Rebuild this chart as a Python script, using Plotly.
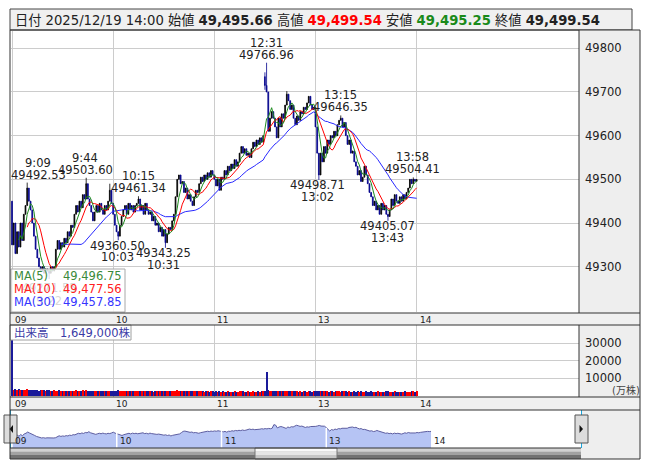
import plotly.graph_objects as go
import pandas as pd

W, H = 653, 470
FONT = "DejaVu Sans, Noto Sans CJK JP, sans-serif"

# ---------------- data (1-minute bars, 09:00-11:30 + 12:30-14:00) ----------------
closes = [
    49350, 49400, 49330, 49380, 49345, 49400, 49360, 49420, 49440, 49480, 49450,
    49430, 49400, 49370, 49340, 49320, 49300, 49290, 49300, 49285, 49295,
    49290, 49285, 49300, 49290, 49300, 49340, 49360, 49340, 49355, 49345,
    49365, 49355, 49380, 49370, 49395, 49390, 49420, 49440, 49425, 49450,
    49435, 49465, 49455, 49490, 49455, 49440, 49425, 49405, 49425, 49440,
    49425, 49445, 49430, 49420, 49440, 49430, 49450, 49475, 49445, 49420,
    49395, 49380, 49370, 49395, 49415, 49430, 49440, 49420, 49445, 49430,
    49440, 49425, 49440, 49445, 49455, 49430, 49440, 49420, 49445, 49430,
    49420, 49425, 49405, 49415, 49395, 49400, 49380, 49390, 49370, 49385,
    49355, 49375, 49390, 49385, 49405, 49420, 49460, 49500, 49510, 49490,
    49495, 49470, 49480, 49455, 49465, 49450, 49440, 49460, 49475, 49470,
    49490, 49505, 49495, 49510, 49500, 49515, 49505, 49520, 49510, 49500,
    49485, 49500, 49475, 49505, 49500, 49520, 49510, 49530, 49520, 49535,
    49525, 49545, 49530, 49540, 49560, 49575, 49560, 49570, 49555, 49560,
    49550, 49570, 49585, 49575, 49590, 49580, 49595, 49585, 49600, 49715,
    49700, 49610, 49640, 49655, 49640, 49620, 49595, 49640, 49620, 49650,
    49640, 49670, 49695, 49680, 49660, 49670, 49640, 49625, 49645, 49635,
    49655, 49650, 49665, 49660, 49675, 49690, 49670, 49660, 49665, 49620,
    49560, 49510, 49560, 49540, 49575, 49560, 49590, 49580, 49600, 49595,
    49610, 49600, 49625, 49635, 49640, 49620, 49630, 49600, 49580, 49590,
    49560, 49565, 49540, 49530, 49510, 49520, 49495, 49505, 49530, 49510,
    49490, 49470, 49460, 49440, 49450, 49430, 49440, 49420, 49445, 49430,
    49440, 49420, 49415, 49430, 49455, 49440, 49465, 49450, 49445, 49460,
    49450, 49465, 49455, 49470, 49480, 49500, 49490, 49500, 49495.66, 49499.54,
]
open_marks = {0: 49450, 150: 49735, 240: 49495.66}
high_marks = {9: 49492.53, 44: 49503.60, 58: 49490, 75: 49461.34, 150: 49745,
              151: 49766.96, 163: 49702, 195: 49646.35, 238: 49504.41, 240: 49499.54}
low_marks = {22: 49271.55, 63: 49360.50, 91: 49343.25, 150: 49705,
             182: 49498.71, 223: 49405.07, 240: 49495.25}

volumes = [
    32000,
    3400, 3600, 3300, 3500, 3200, 3400, 3100, 3300, 3600, 3200,
    3000, 3100, 2900, 3200, 3000, 2800, 3100, 2900, 3000, 2800,
    2900, 3100, 2800, 2700, 2900, 2800, 2600, 2900, 2700, 2800,
    2600, 2800, 2700, 2500, 2800, 2600, 2700, 2900, 2600, 2800,
    2700, 2900, 2800, 3000, 2700, 2600, 2800, 2500, 2700, 2600,
    2500, 2700, 2600, 2400, 2600, 2500, 2700, 2800, 2600, 2700,
    2800, 2600, 2900, 2700, 2500, 2600, 2400, 2500, 2600, 2400,
    2500, 2300, 2400, 2600, 2500, 2300, 2400, 2500, 2300, 2400,
    2300, 2500, 2400, 2200, 2400, 2300, 2500, 2300, 2400, 2600,
    2700, 2500, 2400, 2300, 2500, 2600, 2800, 2900, 2700, 2600,
    2500, 2400, 2600, 2300, 2500, 2400, 2300, 2500, 2400, 2300,
    2400, 2500, 2300, 2200, 2400, 2300, 2200, 2400, 2300, 2200,
    2300, 2200, 2400, 2100, 2300, 2200, 2100, 2300, 2200, 2100,
    2200, 2300, 2100, 2200, 2400, 2500, 2300, 2200, 2100, 2300,
    2200, 2100, 2300, 2200, 2100, 2300, 2200, 2400, 2300, 2600,
    13500, 3000, 2800, 2600, 2700, 2500, 2600, 2400, 2500, 2600,
    2400, 2500, 2700, 2500, 2400, 2300, 2500, 2400, 2300, 2200,
    2300, 2200, 2400, 2300, 2200, 2300, 2400, 2200, 2300, 2600,
    2800, 2700, 2600, 2400, 2500, 2300, 2400, 2200, 2300, 2400,
    2200, 2300, 2400, 2300, 2200, 2300, 2400, 2300, 2200, 2300,
    2200, 2100, 2300, 2200, 2400, 2200, 2300, 2100, 2200, 2300,
    2200, 2100, 2300, 2200, 2100, 2200, 2300, 2100, 2200, 2100,
    2200, 2300, 2400, 2200, 2100, 2200, 2300, 2100, 2200, 2100,
    2200, 2100, 2300, 2200, 2100, 2200, 2300, 2400, 2200, 2500,
]

hour_pos = [0, 60, 120, 180, 240]
hour_labels = ["09", "10", "11", "13", "14"]
price_ticks = [49300, 49400, 49500, 49600, 49700, 49800]
vol_ticks = [10000, 20000, 30000]

# extreme labels: (index, time text, price text, kind, x nudge px)
extremes = [
    (9, "9:09", "49492.53", "high", 11),
    (44, "9:44", "49503.60", "high", -1),
    (75, "10:15", "49461.34", "high", 0),
    (63, "10:03", "49360.50", "low", -1),
    (91, "10:31", "49343.25", "low", -2),
    (151, "12:31", "49766.96", "high", 0),
    (195, "13:15", "49646.35", "high", 0),
    (182, "13:02", "49498.71", "low", -1),
    (223, "13:43", "49405.07", "low", 0),
    (238, "13:58", "49504.41", "high", -1),
]
faint_low = (22, "9:22", "49271.55")

header_html = ("日付 2025/12/19 14:00 始値 <b>49,495.66</b> 高値 "
               "<b><span style='color:#ff0000'>49,499.54</span></b> 安値 "
               "<b><span style='color:#1a8a1a'>49,495.25</span></b> 終値 <b>49,499.54</b>")
ma_legend = [("MA(5)", "49,496.75", "#3a8a3a"),
             ("MA(10)", "49,477.56", "#ff2020"),
             ("MA(30)", "49,457.85", "#3535ff")]
volume_label = "出来高　1,649,000株"

# ---------------- derived OHLC ----------------
n = len(closes)
idx = list(range(n))
opens, highs, lows = [], [], []
for i in range(n):
    o = open_marks.get(i, closes[i - 1] if i > 0 else closes[i])
    c = closes[i]
    opens.append(o)
    highs.append(high_marks.get(i, max(o, c)))
    lows.append(low_marks.get(i, min(o, c)))

s = pd.Series(closes)
ma5 = s.rolling(5).mean()
ma10 = s.rolling(10).mean()
ma30 = s.rolling(30).mean()

UP, DOWN = "#000000", "#00008b"
vol_colors = ["#ff0000" if closes[i] >= opens[i] else "#1a1a9a" for i in idx]

Y0, Y1 = 49196.3, 49839.6          # price axis range
PX_PER_UNIT = (312 - 31) / (Y1 - Y0)


def px(x):
    return x / W


def py(y):
    return 1 - y / H


fig = go.Figure()
fig.add_trace(go.Candlestick(
    x=idx, open=opens, high=highs, low=lows, close=closes,
    increasing=dict(line=dict(color=UP, width=0.8), fillcolor=UP),
    decreasing=dict(line=dict(color=DOWN, width=0.8), fillcolor=DOWN),
    whiskerwidth=0, xaxis="x", yaxis="y", showlegend=False, hoverinfo="skip"))
for ser, col in [(ma30, "#2828ff"), (ma10, "#ff0000"), (ma5, "#1e8c1e")]:
    fig.add_trace(go.Scatter(x=idx, y=ser, mode="lines", line=dict(color=col, width=1),
                             xaxis="x", yaxis="y", showlegend=False, hoverinfo="skip"))
# low label of 9:22, drawn under the (semi-transparent) MA legend box
fi, ftime, fprice = faint_low
fig.add_trace(go.Scatter(x=[fi, fi],
                         y=[lows[fi] - 10 / PX_PER_UNIT, lows[fi] - 23 / PX_PER_UNIT],
                         mode="text", text=[fprice, ftime], textposition="middle center",
                         textfont=dict(family=FONT, size=11.5, color="#222222"),
                         xaxis="x", yaxis="y", showlegend=False, hoverinfo="skip",
                         cliponaxis=False))
fig.add_trace(go.Bar(x=idx, y=volumes, marker=dict(color=vol_colors, line=dict(width=0)),
                     width=0.6, xaxis="x2", yaxis="y2", showlegend=False, hoverinfo="skip"))
fig.add_trace(go.Scatter(x=idx, y=closes, mode="lines", fill="tozeroy",
                         fillcolor="#b6c4f4", line=dict(color="#5e5ea0", width=1),
                         xaxis="x3", yaxis="y3", showlegend=False, hoverinfo="skip"))

# ---------------- shapes ----------------
shapes = []


def rect(x0, y0, x1, y1, fill="rgba(0,0,0,0)", line=None, lw=1, layer="below"):
    shapes.append(dict(type="rect", xref="paper", yref="paper",
                       x0=px(x0), x1=px(x1), y0=py(y1), y1=py(y0),
                       fillcolor=fill,
                       line=dict(color=line if line else "rgba(0,0,0,0)", width=lw if line else 0),
                       layer=layer))


def seg(x0, y0, x1, y1, color="#333333", lw=1, layer="above"):
    shapes.append(dict(type="line", xref="paper", yref="paper",
                       x0=px(x0), x1=px(x1), y0=py(y0), y1=py(y1),
                       line=dict(color=color, width=lw), layer=layer))


GRAY = "#eeeeee"
# header
rect(10, 9, 632, 30, fill="#f0f0f0", line="#444444")
# right columns & strips
rect(579, 30, 640, 313, fill=GRAY)
rect(10, 313, 640, 325, fill="#f0f0f0")
rect(579, 325, 640, 397, fill=GRAY)
rect(10, 397, 640, 410, fill="#f0f0f0")
rect(581, 410, 640, 459, fill=GRAY)
# scrollbar
rect(10, 448, 581, 451.5, fill="#d2d2d2")
rect(10, 451.5, 581, 455, fill="#a2a2a2")
rect(10, 455, 581, 459, fill="#727272")
rect(255, 448, 337, 451.5, fill="#fafafa", layer="above")
rect(255, 451.5, 337, 455, fill="#e6e6e6", layer="above")
rect(255, 455, 337, 459, fill="#c6c6c6", layer="above")
rect(255, 448, 337, 459, line="#777777", layer="above")
# navigator separators
for hp in hour_pos[:4]:
    shapes.append(dict(type="line", xref="x3", yref="paper", x0=hp, x1=hp,
                       y0=py(447.5), y1=py(428), line=dict(color="#ffffff", width=1.5), layer="above"))
# navigator edges (cyan)
seg(10.5, 410, 10.5, 448, color="#19a8e0")
seg(581.5, 410, 581.5, 448, color="#19a8e0")
# handles
for hx0, hx1, pts in [(4, 17, [(13, 425), (13, 433), (9.5, 429)]),
                      (575, 588, [(579.5, 425), (579.5, 433), (583, 429)])]:
    rect(hx0, 415, hx1, 443, fill="#dcdcdc", line="#555555", layer="above")
    path = "M {} {} L {} {} L {} {} Z".format(px(pts[0][0]), py(pts[0][1]), px(pts[1][0]), py(pts[1][1]),
                                               px(pts[2][0]), py(pts[2][1]))
    shapes.append(dict(type="path", xref="paper", yref="paper", path=path,
                       fillcolor="#111111", line=dict(width=0), layer="above"))
# legend box and volume label box
rect(11, 269, 125, 312, fill="rgba(255,255,255,0.82)", line="#a8a8a8", layer="above")
rect(10, 325, 131, 340, fill="rgba(255,255,255,0.9)", line="#a0a0a0", layer="above")
# frame lines
rect(10, 30, 640, 459, line="#333333", layer="above")
for yy in (313, 325, 397, 410):
    seg(10, yy, 640, yy)
seg(10, 448, 581, 448)
seg(579, 30, 579, 313)
seg(579, 325, 579, 397)

# ---------------- annotations ----------------
ann = []


def text(t, x, y, size=11.5, color="#222222", xanchor="center", xref="paper", yref="paper",
         xshift=0, yshift=0):
    ann.append(dict(text=t, x=x, y=y, xref=xref, yref=yref, xanchor=xanchor, yanchor="middle",
                    showarrow=False, font=dict(family=FONT, size=size, color=color),
                    xshift=xshift, yshift=yshift))


text(header_html, px(13), py(19.5), size=13.2, color="#222222", xanchor="left")

for p in price_ticks:
    text(str(p), px(583), p, xanchor="left", yref="y")
for v in vol_ticks:
    text(str(v), px(583), v, xanchor="left", yref="y2")
text("(万株)", px(626), py(390), size=10, color="#444444")

for hp, lab in zip(hour_pos, hour_labels):
    text(lab, hp, py(319.5), size=9, xanchor="left", xref="x", xshift=1)
    text(lab, hp, py(404), size=9, xanchor="left", xref="x2", xshift=1)
    text(lab, hp, py(441), size=9, xanchor="left", xref="x3", xshift=1)

for i, tlab, plab, kind, dx in extremes:
    if kind == "high":
        yv = highs[i]
        text(plab, i, yv, xref="x", yref="y", xshift=dx, yshift=8)
        text(tlab, i, yv, xref="x", yref="y", xshift=dx, yshift=20)
    else:
        yv = lows[i]
        text(plab, i, yv, xref="x", yref="y", xshift=dx, yshift=-5.5)
        text(tlab, i, yv, xref="x", yref="y", xshift=dx, yshift=-17)

for k, (lab, val, col) in enumerate(ma_legend):
    yy = 276 + 13 * k
    text(lab, px(12), py(yy), color=col, xanchor="left")
    text(val, px(124), py(yy), color=col, xanchor="right")

text(volume_label, px(12), py(332.5), color="#3b3ba6", xanchor="left")

# ---------------- layout ----------------
grid = "#cccccc"
fig.update_layout(
    width=W, height=H, margin=dict(l=0, r=0, t=0, b=0),
    paper_bgcolor="#ffffff", plot_bgcolor="rgba(0,0,0,0)",
    showlegend=False, shapes=shapes, annotations=ann, bargap=0,
    xaxis=dict(domain=[px(11), px(579)], range=[-0.6, 336.3], anchor="y",
               tickvals=hour_pos, showticklabels=False, showgrid=True, gridcolor=grid,
               zeroline=False, showline=False, ticks="", rangeslider=dict(visible=False),
               fixedrange=True),
    yaxis=dict(domain=[py(312), py(31)], range=[Y0, Y1], anchor="x",
               tickvals=price_ticks, showticklabels=False, showgrid=True, gridcolor=grid,
               zeroline=False, ticks="", fixedrange=True),
    xaxis2=dict(domain=[px(11), px(579)], range=[-0.6, 336.3], anchor="y2",
                tickvals=hour_pos, showticklabels=False, showgrid=True, gridcolor=grid,
                zeroline=False, ticks="", fixedrange=True),
    yaxis2=dict(domain=[py(397), py(325)], range=[-857, 40286], anchor="x2",
                tickvals=vol_ticks, showticklabels=False, showgrid=True, gridcolor=grid,
                zeroline=False, ticks="", fixedrange=True),
    xaxis3=dict(domain=[px(10), px(581)], range=[-1.15, 325.9], anchor="y3",
                showticklabels=False, showgrid=False, zeroline=False, ticks="", fixedrange=True),
    yaxis3=dict(domain=[py(448), py(410)], range=[48971, 50182], anchor="x3",
                showticklabels=False, showgrid=False, zeroline=False, ticks="", fixedrange=True),
)

fig.write_html("out.html", config={"displayModeBar": False},
               post_script="document.body.style.margin='0';document.body.style.padding='0';")
